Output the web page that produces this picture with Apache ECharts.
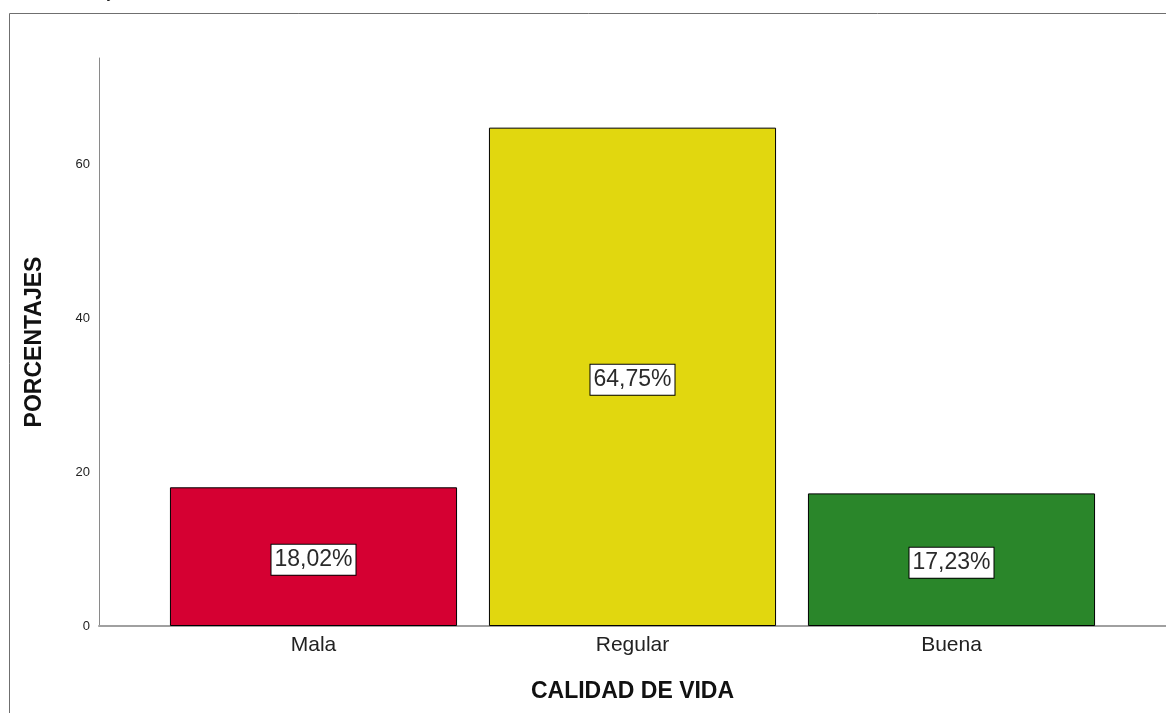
<!DOCTYPE html>
<html>
<head>
<meta charset="utf-8">
<script src="https://cdn.jsdelivr.net/npm/echarts@6/dist/echarts.min.js"></script>
<style>
html,body{margin:0;padding:0;background:#fff;}
#chart{width:1166px;height:713px;}
</style>
</head>
<body>
<div id="chart"></div>
<script>
const categories = ['Mala', 'Regular', 'Buena'];
const values = [18.02, 64.75, 17.23];
const labels = ['18,02%', '64,75%', '17,23%'];
const barColors = ['#d50032', '#e1d70f', '#2a862a'];
const yTicks = [0, 20, 40, 60];
const yMax = 73.8;

const chart = echarts.init(document.getElementById('chart'), null, {renderer: 'canvas'});
const font = '"Liberation Sans", Arial, sans-serif';

chart.setOption({
  animation: false,
  backgroundColor: '#fff',
  textStyle: {fontFamily: font},
  graphic: [
    {type: 'rect', shape: {x: 9.5, y: 13.5, width: 1300, height: 900},
     style: {fill: 'none', stroke: '#6f6f6f', lineWidth: 1}, z: 0},
    {type: 'text', left: 108, top: -14,
     style: {text: 'y', font: 'italic 16px ' + font, fill: '#222'}}
  ],
  grid: [
    {left: 99, right: 0, top: 58, bottom: 87},
    {left: 154, width: 957, top: 58, bottom: 87}
  ],
  xAxis: [
    {type: 'value', gridIndex: 0, min: 0, max: 1,
     axisLine: {show: true, lineStyle: {color: '#a0a0a0', width: 2}},
     axisTick: {show: false}, axisLabel: {show: false}, splitLine: {show: false}},
    {type: 'category', gridIndex: 1, data: categories,
     axisLine: {show: false}, axisTick: {show: false},
     axisLabel: {color: '#222', fontSize: 21, margin: 9, fontFamily: font},
     name: 'CALIDAD DE VIDA', nameLocation: 'middle', nameGap: 54,
     nameTextStyle: {fontSize: 23, fontWeight: 'bold', color: '#111', fontFamily: font}},
  ],
  yAxis: [
    {type: 'value', gridIndex: 0, min: 0, max: yMax, interval: 20,
     axisLine: {show: true, lineStyle: {color: '#8a8a8a', width: 1}},
     axisTick: {show: false}, splitLine: {show: false},
     axisLabel: {color: '#222', fontSize: 13, margin: 9, showMaxLabel: false,
       formatter: v => yTicks.indexOf(v) >= 0 ? String(v) : ''},
     name: 'PORCENTAJES', nameLocation: 'middle', nameGap: 53, nameRotate: 90,
     nameTextStyle: {fontSize: 23, fontWeight: 'bold', color: '#111', fontFamily: font}},
    {type: 'value', gridIndex: 1, min: 0, max: yMax, interval: 20, show: false}
  ],
  series: [{
    type: 'bar', xAxisIndex: 1, yAxisIndex: 1,
    barCategoryGap: '10%',
    data: values.map((v, i) => ({value: v, itemStyle: {color: barColors[i]}})),
    itemStyle: {borderColor: '#000', borderWidth: 1},
    label: {
      show: true, position: 'inside', offset: [0, 3],
      formatter: p => labels[p.dataIndex],
      color: '#2a2a2a', fontSize: 23, fontFamily: font,
      backgroundColor: '#fff', borderColor: '#000', borderWidth: 1,
      padding: [4, 3, 3, 3]
    }
  }]
});
</script>
</body>
</html>
